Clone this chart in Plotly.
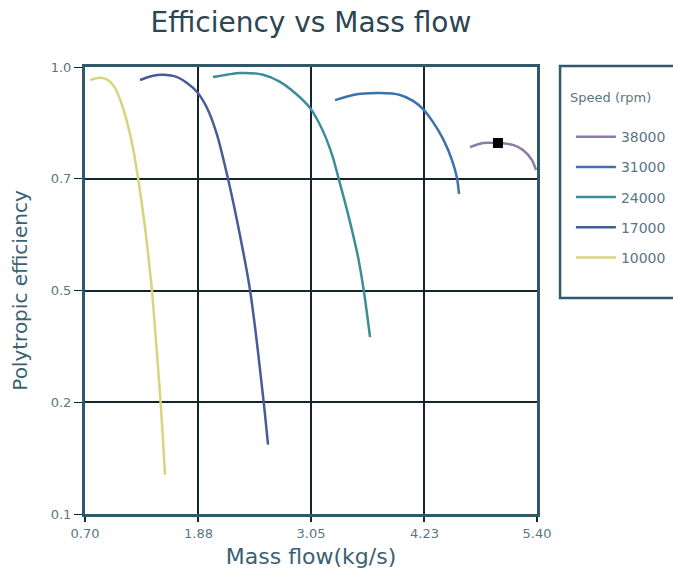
import numpy as np
import plotly.graph_objects as go

# Tick scale of the (non-linear) efficiency axis: labels are evenly spaced
eff_ticks = [0.1, 0.2, 0.5, 0.7, 1.0]
eff_tick_labels = ["0.1", "0.2", "0.5", "0.7", "1.0"]
x_ticks = [0.70, 1.88, 3.05, 4.23, 5.40]
x_tick_labels = ["0.70", "1.88", "3.05", "4.23", "5.40"]

speeds = ["38000", "31000", "24000", "17000", "10000"]

flow_10000 = [0.752, 0.856, 0.939, 1.012, 1.074, 1.137, 1.199, 1.251, 1.293, 1.334, 1.365, 1.397, 1.428, 1.459, 1.490, 1.511, 1.532]
eff_10000 = [0.965, 0.971, 0.965, 0.944, 0.906, 0.852, 0.783, 0.702, 0.653, 0.599, 0.551, 0.499, 0.399, 0.295, 0.195, 0.166, 0.135]

flow_17000 = [1.272, 1.397, 1.511, 1.657, 1.761, 1.865, 1.969, 2.073, 2.187, 2.301, 2.416, 2.478, 2.530, 2.572, 2.603]
eff_17000 = [0.965, 0.976, 0.979, 0.973, 0.957, 0.933, 0.890, 0.818, 0.700, 0.608, 0.501, 0.381, 0.265, 0.189, 0.162]

flow_24000 = [2.031, 2.312, 2.551, 2.728, 2.884, 3.040, 3.123, 3.206, 3.279, 3.341, 3.414, 3.476, 3.539, 3.601, 3.664]
eff_24000 = [0.973, 0.984, 0.979, 0.960, 0.930, 0.890, 0.855, 0.809, 0.756, 0.698, 0.651, 0.608, 0.560, 0.496, 0.375]

flow_31000 = [3.300, 3.487, 3.768, 3.976, 4.111, 4.215, 4.319, 4.423, 4.516, 4.568, 4.589]
eff_31000 = [0.911, 0.925, 0.930, 0.925, 0.909, 0.887, 0.852, 0.807, 0.750, 0.702, 0.673]

flow_38000 = [4.703, 4.838, 4.994, 5.150, 5.254, 5.348, 5.390]
eff_38000 = [0.785, 0.796, 0.796, 0.791, 0.777, 0.750, 0.723]

point_flow = [4.994]
point_eff = [0.796]

tick_pos = list(range(len(eff_ticks)))


def to_axis(e):
    return np.interp(e, eff_ticks, tick_pos)


series = [
    ("38000", flow_38000, eff_38000, "#8c7aa8"),
    ("31000", flow_31000, eff_31000, "#3a72b0"),
    ("24000", flow_24000, eff_24000, "#3d8d98"),
    ("17000", flow_17000, eff_17000, "#465c98"),
    ("10000", flow_10000, eff_10000, "#d8d47e"),
]

FONT = "DejaVu Sans, Verdana, sans-serif"

fig = go.Figure()
for i, (name, fx, fy, col) in enumerate(series):
    fig.add_trace(go.Scatter(
        x=fx, y=to_axis(fy), mode="lines", name=name,
        line=dict(color=col, width=2.5, shape="spline", smoothing=0.7),
        legendgroup=name, legendrank=i,
    ))

fig.add_trace(go.Scatter(
    x=point_flow, y=to_axis(point_eff), mode="markers", showlegend=False,
    marker=dict(symbol="square", size=10, color="black"),
))

axis_col = "#2f5a6c"
grid_col = "#14252c"
label_col = "#5a7684"
tick_font = dict(family=FONT, size=13, color=label_col)

fig.update_layout(
    width=673, height=575,
    margin=dict(l=85, r=136, t=67, b=61, autoexpand=False),
    paper_bgcolor="white", plot_bgcolor="white",
    title=dict(text="Efficiency vs Mass flow", x=0.462, xanchor="center", y=0.962, yanchor="middle",
               font=dict(family=FONT, size=28, color="#2c4652")),
    showlegend=True,
    legend=dict(
        x=1.075, xanchor="left", y=0.879, yanchor="top",
        bgcolor="rgba(0,0,0,0)", borderwidth=0,
        font=dict(family=FONT, size=14, color=label_col),
        tracegroupgap=9, itemwidth=40,
    ),
    shapes=[dict(type="rect", xref="paper", yref="paper",
                 x0=1.051, x1=1.4, y0=0.483, y1=1.002,
                 line=dict(color=axis_col, width=2.5), fillcolor="rgba(0,0,0,0)")],
    annotations=[dict(text="Speed (rpm)", xref="paper", yref="paper", x=1.069, y=0.931,
                      xanchor="left", yanchor="middle", showarrow=False,
                      font=dict(family=FONT, size=13, color=label_col))],
    xaxis=dict(
        range=[0.7, 5.4], tickvals=x_ticks, ticktext=x_tick_labels,
        showgrid=True, gridcolor=grid_col, gridwidth=2,
        showline=True, linecolor=axis_col, linewidth=3, mirror=True,
        ticks="outside", ticklen=5, tickcolor=grid_col, tickwidth=2,
        tickfont=tick_font, zeroline=False,
        title=dict(text="Mass flow(kg/s)", standoff=10,
                   font=dict(family=FONT, size=22, color="#3a6272")),
    ),
    yaxis=dict(
        range=[0, 4], tickvals=tick_pos, ticktext=eff_tick_labels,
        showgrid=True, gridcolor=grid_col, gridwidth=2,
        showline=True, linecolor=axis_col, linewidth=3, mirror=True,
        ticks="outside", ticklen=8, tickcolor=grid_col, tickwidth=1,
        tickfont=tick_font, zeroline=False,
        title=dict(text="Polytropic efficiency", standoff=18,
                   font=dict(family=FONT, size=20, color="#3a6272")),
    ),
)

fig.write_html("out.html")
